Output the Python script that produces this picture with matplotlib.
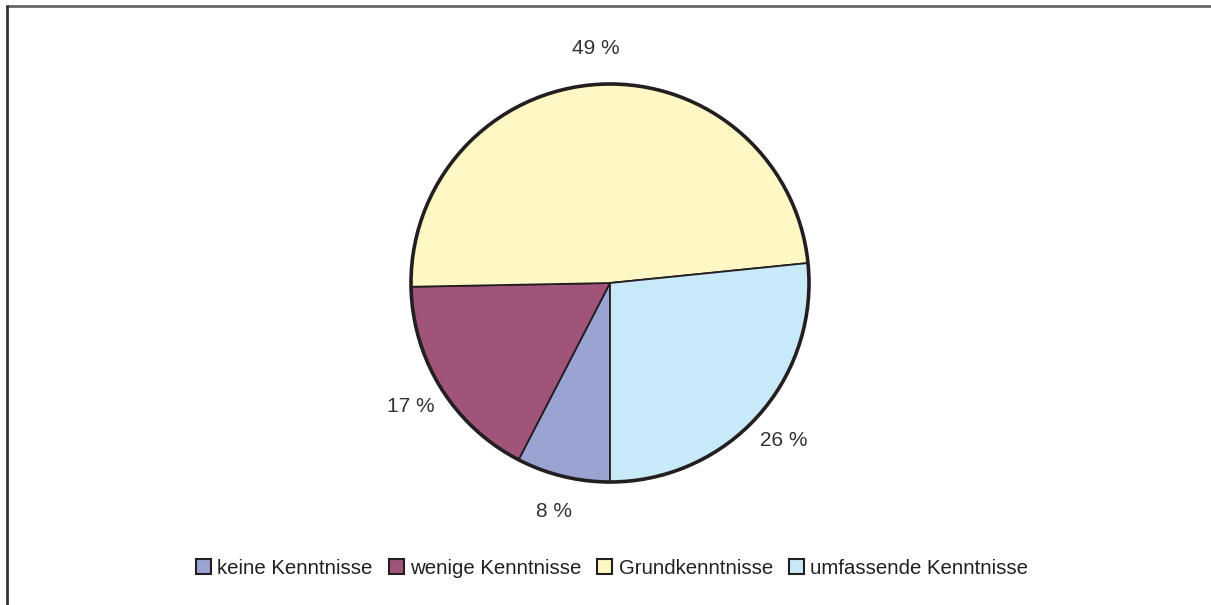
import matplotlib.pyplot as plt
from matplotlib.patches import Circle

labels = ['keine Kenntnisse', 'wenige Kenntnisse', 'Grundkenntnisse', 'umfassende Kenntnisse']
values = [7.6, 17.1, 48.7, 26.6]
pct_labels = ['8 %', '17 %', '49 %', '26 %']
colors = ['#9aa3d2', '#a05479', '#fff8c4', '#c8e9f8']

fig = plt.figure(figsize=(12.11, 6.05), dpi=100)
ax = fig.add_axes([0, 0, 1, 1])

cx, cy, r = 610, 322, 199
wedges, texts = ax.pie(values, labels=pct_labels, colors=colors, startangle=270,
                       counterclock=False, center=(cx, cy), radius=r,
                       labeldistance=1.18, frame=True,
                       wedgeprops=dict(edgecolor='#231f20', linewidth=1.3),
                       textprops=dict(fontsize=15, color='#333333', family='Liberation Sans'))
for t in texts:
    t.set_horizontalalignment('center')
    t.set_verticalalignment('center')
ax.set_xlim(0, 1211)
ax.set_ylim(0, 605)
ax.set_aspect('equal')
ax.axis('off')
ax.add_patch(Circle((cx, cy), r, fill=False, edgecolor='#231f20', linewidth=2.6, zorder=5))

# frame lines (top and left)
ax.plot([6, 1211], [599, 599], color='#666666', linewidth=2, solid_capstyle='butt')
ax.plot([6.5, 6.5], [0, 600], color='#333333', linewidth=2, solid_capstyle='butt')

leg = ax.legend(wedges, labels, loc='center', bbox_to_anchor=(612, 37),
                bbox_transform=ax.transData, ncol=4, frameon=False,
                prop=dict(family=['Liberation Sans Narrow', 'Liberation Sans'], size=14.7),
                handlelength=0.75, handleheight=0.75, handletextpad=0.3,
                columnspacing=0.77, borderaxespad=0)
for h in leg.legend_handles:
    h.set_edgecolor('#231f20')
    h.set_linewidth(1.5)
for t in leg.get_texts():
    t.set_color('#231f20')

fig.savefig('out.png', dpi=100)
